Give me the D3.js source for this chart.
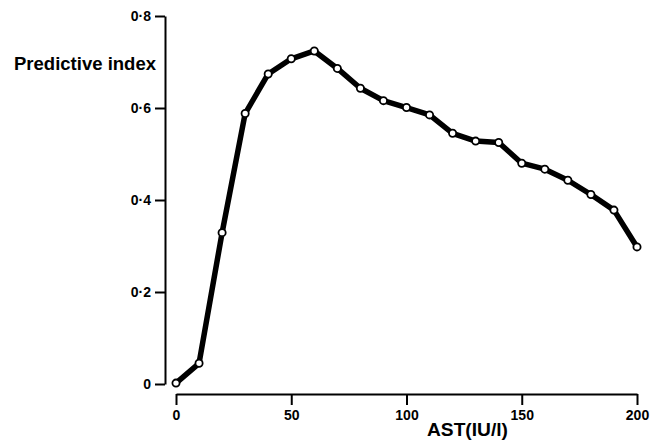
<!DOCTYPE html>
<html>
<head>
<meta charset="utf-8">
<script src="https://cdn.jsdelivr.net/npm/d3@7/dist/d3.min.js"></script>
<style>
  html, body { margin: 0; padding: 0; background: #fff; }
  svg { display: block; }
  text { font-family: "Liberation Sans", Arial, sans-serif; font-weight: bold; fill: #000; }
</style>
</head>
<body>
<svg id="chart" width="664" height="441"></svg>
<script>
const astValues = [0, 10, 20, 30, 40, 50, 60, 70, 80, 90, 100, 110, 120, 130, 140, 150, 160, 170, 180, 190, 200];
const predictiveIndex = [0.002, 0.045, 0.329, 0.588, 0.674, 0.707, 0.724, 0.686, 0.643, 0.616, 0.601, 0.585, 0.545, 0.528, 0.525, 0.480, 0.467, 0.443, 0.412, 0.378, 0.298];
const xTicks = [0, 50, 100, 150, 200];
const yTicks = [0, 0.2, 0.4, 0.6, 0.8];
const yTickLabels = ["0", "0·2", "0·4", "0·6", "0·8"];

const svg = d3.select("#chart");

const x = d3.scaleLinear().domain([0, 200]).range([176, 637]);
const y = d3.scaleLinear().domain([0, 0.8]).range([384, 16]);

// Y axis
const yAxis = d3.axisLeft(y)
  .tickValues(yTicks)
  .tickFormat((d, i) => yTickLabels[i])
  .tickSize(10)
  .tickSizeOuter(0)
  .tickPadding(4);
const gy = svg.append("g").attr("transform", "translate(165,0)").call(yAxis);
gy.select(".domain").attr("stroke", "#000").attr("stroke-width", 2);
gy.selectAll(".tick line").attr("stroke", "#000").attr("stroke-width", 2);
gy.selectAll(".tick text").style("font-size", "14px").attr("fill", "#000");

// X axis
const xAxis = d3.axisBottom(x)
  .tickValues(xTicks)
  .tickSize(11)
  .tickSizeOuter(0)
  .tickPadding(5);
const gx = svg.append("g").attr("transform", "translate(0,394)").call(xAxis);
gx.select(".domain").attr("stroke", "#000").attr("stroke-width", 2);
gx.selectAll(".tick line").attr("stroke", "#000").attr("stroke-width", 2);
gx.selectAll(".tick text").style("font-size", "14px").attr("fill", "#000");

// Axis titles
svg.append("text")
  .attr("x", 14).attr("y", 69.5)
  .style("font-size", "17.5px")
  .attr("textLength", 142)
  .attr("lengthAdjust", "spacingAndGlyphs")
  .text("Predictive index");

svg.append("text")
  .attr("x", 427).attr("y", 436)
  .style("font-size", "18.5px")
  .attr("textLength", 81)
  .attr("lengthAdjust", "spacingAndGlyphs")
  .text("AST(IU/l)");

const data = astValues.map((v, i) => ({ x: v, y: predictiveIndex[i] }));

const line = d3.line().x(d => x(d.x)).y(d => y(d.y));
svg.append("path")
  .datum(data)
  .attr("d", line)
  .attr("fill", "none")
  .attr("stroke", "#000")
  .attr("stroke-width", 5.5)
  .attr("stroke-linejoin", "round");

svg.selectAll("circle.pt")
  .data(data)
  .enter().append("circle")
  .attr("class", "pt")
  .attr("cx", d => x(d.x))
  .attr("cy", d => y(d.y))
  .attr("r", 3.6)
  .attr("fill", "#fff")
  .attr("stroke", "#000")
  .attr("stroke-width", 1.8);
</script>
</body>
</html>
